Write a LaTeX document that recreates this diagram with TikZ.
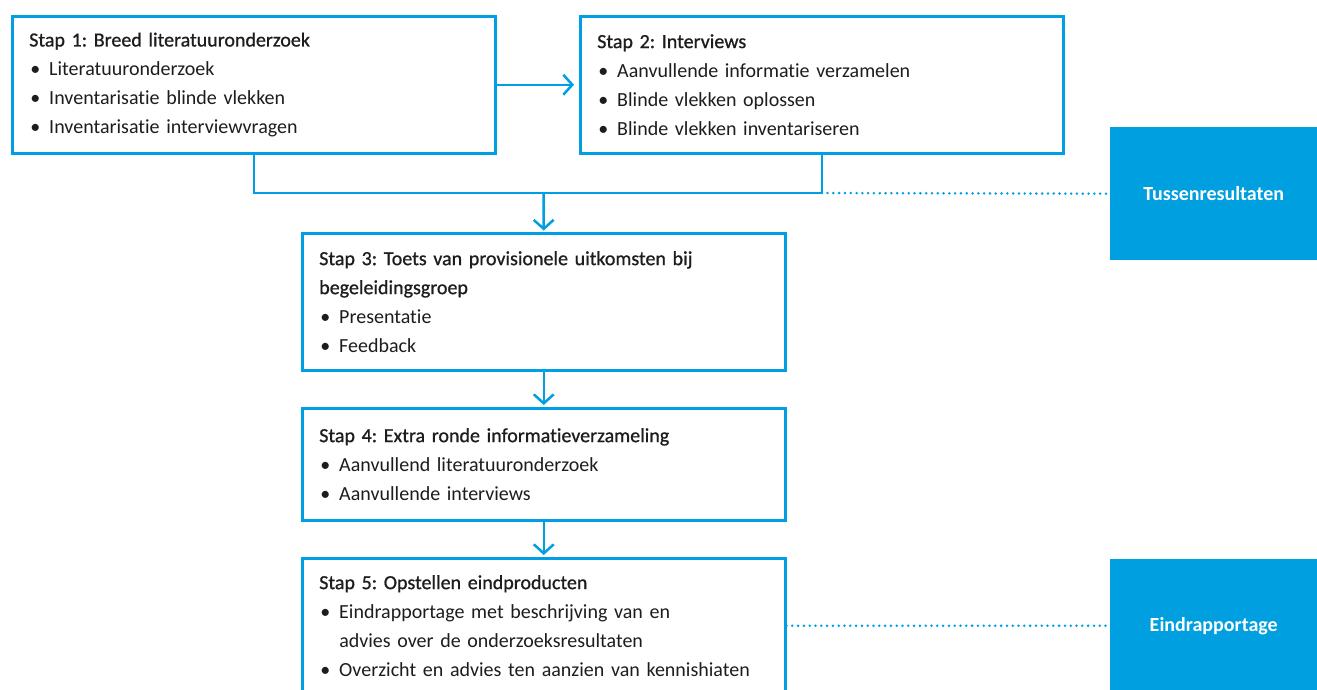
\documentclass[tikz,border=0pt]{standalone}
\usepackage{fontspec}
\usepackage{tikz}
\usepackage{xcolor}
\usetikzlibrary{arrows.meta}
\setmainfont[Ligatures=NoCommon, Contextuals=NoAlternate]{Carlito}
\newfontfamily\headfont[FakeBold=0.8, Ligatures=NoCommon, Contextuals=NoAlternate]{Carlito}
\definecolor{lineblue}{HTML}{009FE3}
\definecolor{labelblue}{HTML}{009FE0}
\definecolor{textgrey}{HTML}{1D1D1B}
\frenchspacing
\newcommand{\punt}[1]{\par\hangindent=20pt\hangafter=1\noindent\makebox[20pt][l]{\hspace*{1pt}\textbullet}#1}
\tikzset{
    step-box/.style = {draw=lineblue, fill=white, line width=2.5pt, rectangle, anchor=north west,
        inner xsep=17pt, inner ysep=0pt, text width=449pt, align=left, text=textgrey,
        font=\fontsize{20pt}{29pt}\selectfont},
    result-box/.style = {fill=labelblue, text=white, anchor=north west, minimum width=207pt,
        minimum height=133pt, font=\fontsize{20pt}{24pt}\selectfont\bfseries},
    flow-line/.style = {draw=lineblue, line width=2.5pt},
    flow-arrow/.style = {flow-line, -{Straight Barb[length=9pt,width=20pt,line width=2.5pt]}},
    dotted-link/.style = {draw=lineblue, line width=2.8pt, line cap=round, dash pattern=on 0pt off 5.8pt},
}

\begin{document}
\begin{tikzpicture}[x=1pt, y=-1pt]
\useasboundingbox (0,0) rectangle (1317,689);

% stappen
\node[step-box, minimum height=137pt] (box1) at (11,15) {{\headfont Stap 1: Breed literatuuronderzoek}
    \punt{Literatuuronderzoek}
    \punt{Inventarisatie blinde vlekken}
    \punt{Inventarisatie interviewvragen}};
\node[step-box, minimum height=137pt] (box2) at (579,15) {{\headfont Stap 2: Interviews}
    \punt{Aanvullende informatie verzamelen}
    \punt{Blinde vlekken oplossen}
    \punt{Blinde vlekken inventariseren}};
\node[step-box, minimum height=137pt] (box3) at (301,232) {{\headfont Stap 3: Toets van provisionele uitkomsten bij\newline begeleidingsgroep}
    \punt{Presentatie}
    \punt{Feedback}};
\node[step-box, minimum height=112pt] (box4) at (301,407) {{\headfont Stap 4: Extra ronde informatieverzameling}
    \punt{Aanvullend literatuuronderzoek}
    \punt{Aanvullende interviews}};
\node[step-box, minimum height=135pt] (box5) at (301,557) {{\headfont Stap 5: Opstellen eindproducten}
    \punt{Eindrapportage met beschrijving van en\newline advies over de onderzoeksresultaten}
    \punt{Overzicht en advies ten aanzien van kennishiaten}};

% resultaten
\node[result-box] (tussen) at (1110,127) {Tussenresultaten};
\node[result-box] (eind) at (1110,559) {Eindrapportage};

% verbindingen
\coordinate (merge) at (543.5,193);
\draw[flow-arrow, shorten >=5pt] (box1.east) -- (box2.west);
\draw[flow-line] (box1.south) |- (merge) -| (box2.south);
\draw[flow-arrow, shorten >=1.5pt] (merge) -- (box3.north);
\draw[flow-arrow, shorten >=2pt] (box3.south) -- (box4.north);
\draw[flow-arrow, shorten >=2pt] (box4.south) -- (box5.north);
\draw[dotted-link] (box2.south |- merge) -- (tussen.west);
\draw[dotted-link] (box5.east) -- (box5.east -| eind.west);
\end{tikzpicture}
\end{document}
